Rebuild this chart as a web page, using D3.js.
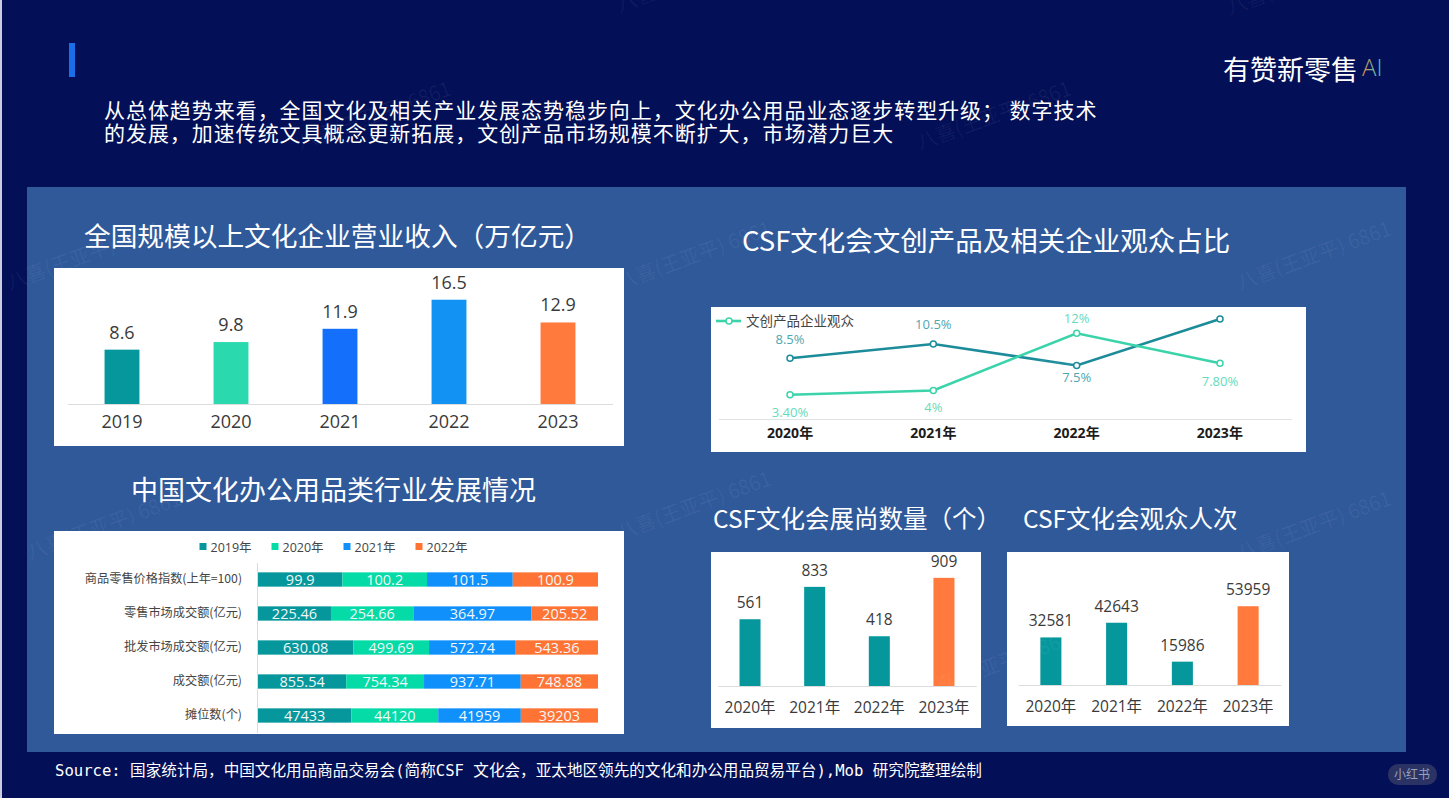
<!DOCTYPE html>
<html>
<head>
<meta charset="utf-8">
<script src="https://cdn.jsdelivr.net/npm/d3@7"></script>
<style>
  html, body { margin: 0; padding: 0; background: #030f56; overflow: hidden; }
  text { font-family: "Open Sans", "Noto Sans CJK SC", sans-serif; }
  .cn { font-family: "Noto Sans CJK SC", sans-serif; }
  .mono { font-family: "DejaVu Sans Mono", "Noto Sans CJK SC", monospace; }
</style>
</head>
<body>
<svg id="slide" width="1449" height="798"></svg>
<script>
// Revenue chart
const revenueYears = ["2019", "2020", "2021", "2022", "2023"];
const revenueValues = [8.6, 9.8, 11.9, 16.5, 12.9];

// Stacked bar chart
const industryRows = ["商品零售价格指数(上年=100)", "零售市场成交额(亿元)", "批发市场成交额(亿元)", "成交额(亿元)", "摊位数(个)"];
const industryYears = ["2019年", "2020年", "2021年", "2022年"];
const industry2019 = [99.9, 225.46, 630.08, 855.54, 47433];
const industry2020 = [100.2, 254.66, 499.69, 754.34, 44120];
const industry2021 = [101.5, 364.97, 572.74, 937.71, 41959];
const industry2022 = [100.9, 205.52, 543.36, 748.88, 39203];

// Line chart
const audienceYears = ["2020年", "2021年", "2022年", "2023年"];
const audienceProducts = [3.4, 4, 12, 7.8];
const audienceProductLabels = ["3.40%", "4%", "12%", "7.80%"];
const audienceOther = [8.5, 10.5, 7.5, 14];
const audienceOtherLabels = ["8.5%", "10.5%", "7.5%", ""];

// Small bar charts
const csfYears = ["2020年", "2021年", "2022年", "2023年"];
const boothCounts = [561, 833, 418, 909];
const visitorCounts = [32581, 42643, 15986, 53959];

const teal = "#05979c", mint = "#2bd9ae", blue = "#1470fb", sky = "#1292f2", orange = "#ff7a3c";
const svg = d3.select("#slide");

// Backdrop
svg.append("rect").attr("width", 1449).attr("height", 798).attr("fill", "#030f56");
svg.append("rect").attr("width", 2).attr("height", 798).attr("fill", "#c9cfe0");
svg.append("rect").attr("x", 27).attr("y", 187).attr("width", 1379).attr("height", 565).attr("fill", "#30599a");
svg.append("rect").attr("x", 69).attr("y", 43).attr("width", 6).attr("height", 34).attr("fill", "#1a6fe8");

// Function to draw centred or left text
function label(x, y, str, size, color, anchor = "middle", cls = "") {
    return svg.append("text")
        .attr("x", x).attr("y", y)
        .attr("class", cls)
        .attr("text-anchor", anchor)
        .attr("font-size", size)
        .attr("fill", color)
        .text(str);
}

// Function to draw a white card
function card(x, y, w, h) {
    svg.append("rect").attr("x", x).attr("y", y).attr("width", w).attr("height", h).attr("fill", "#fff");
}

// Header
const intro = label(104, 118, "从总体趋势来看，全国文化及相关产业发展态势稳步向上，文化办公用品业态逐步转型升级； 数字技术", 21, "#fff", "start", "cn");
const intro2 = label(104, 141, "的发展，加速传统文具概念更新拓展，文创产品市场规模不断扩大，市场潜力巨大", 21, "#fff", "start", "cn");
intro.attr("letter-spacing", 0.95);
intro2.attr("letter-spacing", 0.95);

const defs = svg.append("defs");
const aiGrad = defs.append("linearGradient").attr("id", "aiGrad");
aiGrad.append("stop").attr("offset", "0%").attr("stop-color", "#e8873a");
aiGrad.append("stop").attr("offset", "100%").attr("stop-color", "#22d3f0");
label(1223, 80, "有赞新零售", 27, "#fff", "start", "cn");
label(1362, 76, "AI", 24, "url(#aiGrad)", "start").attr("font-weight", 300);

// Section titles
label(84, 246, "全国规模以上文化企业营业收入（万亿元）", 26.7, "#fff", "start", "cn");
label(131, 500, "中国文化办公用品类行业发展情况", 27, "#fff", "start", "cn");
label(742, 251, "CSF文化会文创产品及相关企业观众占比", 27.5, "#fff", "start", "cn");
label(713, 528, "CSF文化会展尚数量（个）", 24.5, "#fff", "start", "cn");
label(1023, 528, "CSF文化会观众人次", 24.5, "#fff", "start", "cn");

// Function to draw a bar chart with a value on top of each bar
function drawBars(box, cats, values, colors, yPerUnit, opts) {
    card(box.x, box.y, box.w, box.h);
    const x = d3.scaleBand().domain(cats).range([opts.left, opts.right])
        .paddingInner(opts.pad).paddingOuter(opts.pad / 2);
    const y = d3.scaleLinear().domain([0, d3.max(values)])
        .range([opts.base, opts.base - d3.max(values) * yPerUnit]);

    svg.selectAll(null).data(values).enter().append("rect")
        .attr("x", (d, i) => x(cats[i]))
        .attr("y", d => y(d))
        .attr("width", x.bandwidth())
        .attr("height", d => opts.base - y(d))
        .attr("fill", (d, i) => colors[i]);

    svg.selectAll(null).data(values).enter().append("text")
        .attr("x", (d, i) => x(cats[i]) + x.bandwidth() / 2)
        .attr("y", d => y(d) - opts.gap)
        .attr("text-anchor", "middle")
        .attr("font-size", opts.size)
        .attr("fill", "#3a3a3a")
        .text(d => d);

    const axis = svg.append("g")
        .attr("transform", `translate(0,${opts.base})`)
        .call(d3.axisBottom(x).tickSize(0).tickPadding(opts.tickPad));
    axis.select(".domain").attr("stroke", "#dcdcdc");
    axis.selectAll("text").attr("font-size", opts.size).attr("fill", "#3a3a3a")
        .style("font-family", '"Open Sans", "Noto Sans CJK SC", sans-serif');
}

drawBars({ x: 54, y: 268, w: 570, h: 178 }, revenueYears, revenueValues,
    [teal, mint, blue, sky, orange], 6.32,
    { left: 67.5, right: 612.5, pad: 0.68, base: 404, gap: 11, size: 18, tickPad: 11 });

drawBars({ x: 711, y: 552, w: 270, h: 176 }, csfYears, boothCounts,
    [teal, teal, teal, orange], 0.119,
    { left: 717.7, right: 976.3, pad: 0.675, base: 686, gap: 11, size: 15.5, tickPad: 16 });

drawBars({ x: 1007, y: 552, w: 282, h: 174 }, csfYears, visitorCounts,
    [teal, teal, teal, orange], 0.00146,
    { left: 1018, right: 1281, pad: 0.68, base: 685, gap: 11, size: 15.5, tickPad: 16 });

// Line chart
card(711, 307, 595, 145);
const lineX = d3.scalePoint().domain(audienceYears).range([790, 1220]);
const lineY = d3.scaleLinear().domain([0, 14]).range([419, 319]);
const lineGen = d3.line().x((d, i) => lineX(audienceYears[i])).y(d => lineY(d));

const lineAxis = svg.append("g")
    .attr("transform", "translate(0,419)")
    .call(d3.axisBottom(d3.scaleBand().domain(audienceYears).range([718.5, 1291.5])).tickSize(0).tickPadding(9));
lineAxis.select(".domain").attr("stroke", "#dfe3e3");
lineAxis.selectAll("text").attr("font-size", 14).attr("font-weight", 700).attr("fill", "#1c1c1c")
    .style("font-family", '"Open Sans", "Noto Sans CJK SC", sans-serif');

[[audienceOther, "#1d8c9a", audienceOtherLabels, "#4fa6b0", [-14, -15, 17, 0]],
 [audienceProducts, "#3bd3aa", audienceProductLabels, "#63dcbb", [22, 22, -10, 23]]].forEach(([vals, color, texts, textColor, offs]) => {
    svg.append("path").datum(vals)
        .attr("d", lineGen)
        .attr("fill", "none")
        .attr("stroke", color)
        .attr("stroke-width", 2.6);
    svg.selectAll(null).data(vals).enter().append("circle")
        .attr("cx", (d, i) => lineX(audienceYears[i]))
        .attr("cy", d => lineY(d))
        .attr("r", 3)
        .attr("fill", "#fff")
        .attr("stroke", color)
        .attr("stroke-width", 1.5);
    svg.selectAll(null).data(vals).enter().append("text")
        .attr("x", (d, i) => lineX(audienceYears[i]))
        .attr("y", (d, i) => lineY(d) + offs[i])
        .attr("text-anchor", "middle")
        .attr("font-size", 13)
        .attr("fill", textColor)
        .text((d, i) => texts[i]);
});
svg.append("line").attr("x1", 716).attr("x2", 741).attr("y1", 321).attr("y2", 321)
    .attr("stroke", "#3bd3aa").attr("stroke-width", 2.6);
svg.append("circle").attr("cx", 729).attr("cy", 321).attr("r", 3)
    .attr("fill", "#fff").attr("stroke", "#3bd3aa").attr("stroke-width", 1.5);
label(746, 326, "文创产品企业观众", 13.5, "#444", "start", "cn");

// Stacked bar chart
card(54, 531, 570, 203);
const industryColors = [teal, "#05dba6", "#0f90fb", "#ff7434"];
const industrySeries = [industry2019, industry2020, industry2021, industry2022];
const industryTable = industryRows.map((row, r) => {
    const entry = { row };
    industryYears.forEach((yr, s) => { entry[yr] = industrySeries[s][r]; });
    return entry;
});
const stacked = d3.stack().keys(industryYears).offset(d3.stackOffsetExpand)(industryTable);
const stackX = d3.scaleLinear().domain([0, 1]).range([258, 598]);
const stackY = d3.scaleBand().domain(industryRows).range([562.5, 732.5]).paddingInner(0.58).paddingOuter(0.29);

stacked.forEach((layer, s) => {
    svg.selectAll(null).data(layer).enter().append("rect")
        .attr("x", d => stackX(d[0]))
        .attr("y", d => stackY(d.data.row))
        .attr("width", d => stackX(d[1]) - stackX(d[0]))
        .attr("height", stackY.bandwidth())
        .attr("fill", industryColors[s]);
    svg.selectAll(null).data(layer).enter().append("text")
        .attr("x", d => (stackX(d[0]) + stackX(d[1])) / 2)
        .attr("y", d => stackY(d.data.row) + stackY.bandwidth() / 2 + 5.5)
        .attr("text-anchor", "middle")
        .attr("font-size", 14.5)
        .attr("fill", "#f2f7f7")
        .text(d => d.data[layer.key]);
});

const stackAxis = svg.append("g")
    .attr("transform", "translate(257,0)")
    .call(d3.axisLeft(stackY).tickSize(0).tickPadding(15));
stackAxis.select(".domain").attr("stroke", "#dcdcdc");
stackAxis.selectAll("text").attr("font-size", 12.2).attr("fill", "#444")
    .style("font-family", '"Noto Sans CJK SC", sans-serif');

const legendX = d3.scalePoint().domain(industryYears).range([199.5, 415.5]);
industryYears.forEach((yr, i) => {
    svg.append("rect").attr("x", legendX(yr)).attr("y", 543).attr("width", 7).attr("height", 7).attr("fill", industryColors[i]);
    label(legendX(yr) + 11, 552, yr, 12.5, "#444", "start");
});

// Source line
label(55, 776, "Source: 国家统计局，中国文化用品商品交易会(简称CSF 文化会，亚太地区领先的文化和办公用品贸易平台),Mob 研究院整理绘制", 15.6, "#fff", "start", "mono");

// Badge
svg.append("rect").attr("x", 1388).attr("y", 764).attr("width", 49).attr("height", 21).attr("rx", 10).attr("fill", "#2b3364");
label(1412, 779, "小红书", 12, "#9aa0b8", "middle", "cn");

// Watermarks
const marks = [[920, 150], [1230, 15], [620, 12], [300, 150], [620, 290], [10, 290], [920, 420], [620, 540], [30, 560], [920, 700], [1240, 290], [1240, 560]];
marks.forEach(([x, y]) => {
    svg.append("text")
        .attr("transform", `translate(${x},${y}) rotate(-20)`)
        .attr("font-size", 20)
        .attr("fill", "#fff")
        .attr("fill-opacity", 0.06)
        .attr("class", "cn")
        .text("八喜(王亚平) 6861");
});
</script>
</body>
</html>
